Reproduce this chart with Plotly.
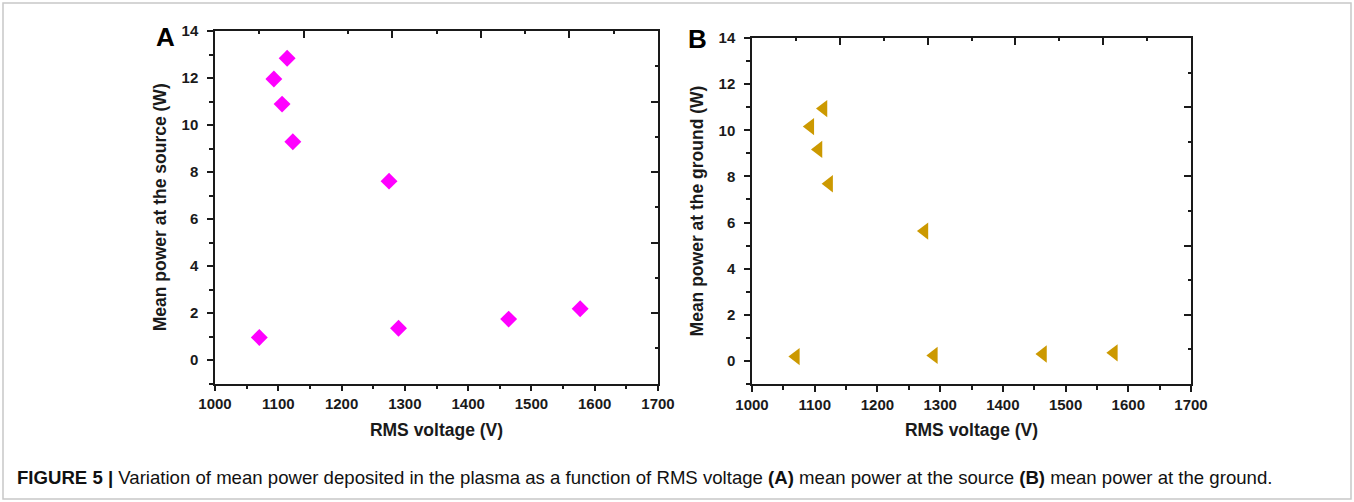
import plotly.graph_objects as go

# ---- data ----
rms_voltage = [1070, 1093, 1106, 1114, 1123, 1275, 1290, 1464, 1577]
power_source = [0.96, 11.96, 10.89, 12.84, 9.29, 7.61, 1.35, 1.74, 2.18]
power_ground = [0.19, 10.16, 9.17, 10.94, 7.68, 5.63, 0.24, 0.30, 0.35]

x_ticks = [1000, 1100, 1200, 1300, 1400, 1500, 1600, 1700]
y_ticks = [0, 2, 4, 6, 8, 10, 12, 14]

W, H = 1354, 502
FONT = "Liberation Sans"
AX = "#1a1a1a"

def px_x(p):
    return p / W

def px_y(p):
    return 1 - p / H

dom_A_x = [px_x(215), px_x(658)]
dom_A_y = [px_y(383.5), px_y(31)]
dom_B_x = [px_x(752), px_x(1191)]
dom_B_y = [px_y(384), px_y(38)]

fig = go.Figure()

fig.add_trace(go.Scatter(
    x=rms_voltage, y=power_source, mode="markers",
    marker=dict(symbol="diamond", size=13, color="#FF00FF", line=dict(width=0)),
    xaxis="x", yaxis="y", showlegend=False))

fig.add_trace(go.Scatter(
    x=rms_voltage, y=power_ground, mode="markers",
    marker=dict(symbol="triangle-left", size=15, color="#CC9900", line=dict(width=0)),
    xaxis="x2", yaxis="y2", showlegend=False))

# empty traces to create frame axes (top / right) with inward ticks
for xa, ya in [("x3", "y3"), ("x4", "y4")]:
    fig.add_trace(go.Scatter(x=[], y=[], xaxis=xa, yaxis=ya, showlegend=False,
                             hoverinfo="skip"))

tickfont = dict(family=FONT, size=15, color=AX)
titlefont = dict(family=FONT, size=17.5, color=AX)

def main_x(domain, anchor):
    return dict(domain=domain, anchor=anchor, range=[1000, 1700], automargin=False,
                tickvals=x_ticks, ticktext=[f"<b>{v}</b>" for v in x_ticks],
                ticks="outside", ticklen=6, tickwidth=1.5, tickcolor=AX,
                ticklabelstandoff=0,
                minor=dict(dtick=50, tick0=1000, ticks="outside", ticklen=4,
                           tickwidth=1.5, tickcolor=AX, showgrid=False),
                showline=True, linecolor=AX, linewidth=1.5, mirror=False,
                showgrid=False, zeroline=False, tickfont=tickfont,
                title=dict(text="<b>RMS voltage (V)</b>", font=titlefont, standoff=12))

def main_y(domain, anchor, title):
    return dict(domain=domain, anchor=anchor, range=[-1, 14], automargin=False,
                tickvals=y_ticks, ticktext=[f"<b>{v}</b>" for v in y_ticks],
                ticks="outside", ticklen=6, tickwidth=1.5, tickcolor=AX,
                ticklabelstandoff=6,
                minor=dict(dtick=1, tick0=0, ticks="outside", ticklen=4,
                           tickwidth=1.5, tickcolor=AX, showgrid=False),
                showline=True, linecolor=AX, linewidth=1.5, mirror=False,
                showgrid=False, zeroline=False, tickfont=tickfont,
                title=dict(text=f"<b>{title}</b>", font=titlefont, standoff=10))

def frame_x(domain, over, anchor):
    return dict(domain=domain, overlaying=over, anchor=anchor, side="top",
                range=[0, 10], dtick=2, tick0=0, ticks="inside", ticklen=7,
                tickwidth=1.5, tickcolor=AX, automargin=False,
                minor=dict(dtick=1, tick0=0, ticks="inside", ticklen=3,
                           tickwidth=1.5, tickcolor=AX, showgrid=False),
                showticklabels=False, showline=True, linecolor=AX, linewidth=1.5,
                showgrid=False, zeroline=False, fixedrange=True)

def frame_y(domain, over, anchor):
    return dict(domain=domain, overlaying=over, anchor=anchor, side="right",
                range=[0, 10], dtick=2, tick0=0, ticks="inside", ticklen=7,
                tickwidth=1.5, tickcolor=AX, automargin=False,
                minor=dict(dtick=1, tick0=0, ticks="inside", ticklen=3,
                           tickwidth=1.5, tickcolor=AX, showgrid=False),
                showticklabels=False, showline=True, linecolor=AX, linewidth=1.5,
                showgrid=False, zeroline=False, fixedrange=True)

fig.update_layout(
    width=W, height=H, autosize=False,
    margin=dict(l=0, r=0, t=0, b=0, pad=0, autoexpand=False),
    paper_bgcolor="white", plot_bgcolor="rgba(0,0,0,0)",
    font=dict(family=FONT, color=AX),
    xaxis=main_x(dom_A_x, "y"),
    yaxis=main_y(dom_A_y, "x", "Mean power at the source (W)"),
    xaxis2=main_x(dom_B_x, "y2"),
    yaxis2=main_y(dom_B_y, "x2", "Mean power at the ground (W)"),
    xaxis3=frame_x(dom_A_x, "x", "y3"),
    yaxis3=frame_y(dom_A_y, "y", "x3"),
    xaxis4=frame_x(dom_B_x, "x2", "y4"),
    yaxis4=frame_y(dom_B_y, "y2", "x4"),
    showlegend=False,
)

annotations = [
    dict(text="<b>A</b>", x=px_x(165), y=px_y(37), xref="paper", yref="paper",
         showarrow=False, font=dict(family=FONT, size=26, color="#000"),
         xanchor="center", yanchor="middle"),
    dict(text="<b>B</b>", x=px_x(697), y=px_y(39), xref="paper", yref="paper",
         showarrow=False, font=dict(family=FONT, size=26, color="#000"),
         xanchor="center", yanchor="middle"),
    dict(text="<b>FIGURE 5 |</b> Variation of mean power deposited in the plasma as a function of RMS voltage "
              "<b>(A)</b> mean power at the source <b>(B)</b> mean power at the ground.",
         x=px_x(15), y=px_y(477), xref="paper", yref="paper", showarrow=False,
         font=dict(family=FONT, size=18.6, color="#111"),
         xanchor="left", yanchor="middle"),
]
fig.update_layout(annotations=annotations)

# light outer frame of the figure panel
fig.add_shape(type="rect", xref="paper", yref="paper",
              x0=px_x(3), x1=px_x(1351), y0=px_y(499), y1=px_y(3),
              line=dict(color="#c8c8c8", width=1.5), fillcolor="rgba(0,0,0,0)", layer="below")

fig.write_html("out.html")
